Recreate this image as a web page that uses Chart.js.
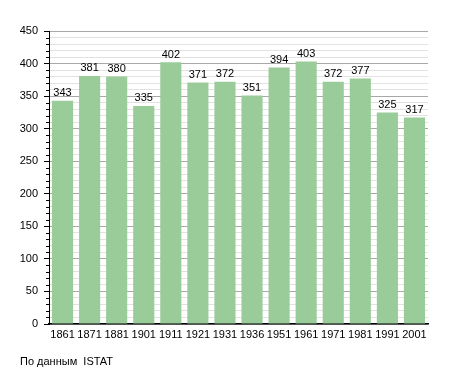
<!DOCTYPE html>
<html>
<head>
<meta charset="utf-8">
<script src="https://cdn.jsdelivr.net/npm/chart.js@4"></script>
<style>
  html, body { margin: 0; padding: 0; background: #fff; }
  #wrap { position: relative; width: 455px; height: 373px; }
  #source {
    position: absolute; left: 20px; top: 355px;
    font: 11px "Liberation Sans", Arial, sans-serif; color: #000;
  }
</style>
</head>
<body>
<div id="wrap">
  <canvas id="chart" width="455" height="373"></canvas>
  <div id="source">По данным&nbsp; ISTAT</div>
</div>
<script>
// census years and population
const years = ["1861", "1871", "1881", "1901", "1911", "1921", "1931", "1936", "1951", "1961", "1971", "1981", "1991", "2001"];
const population = [343, 381, 380, 335, 402, 371, 372, 351, 394, 403, 372, 377, 325, 317];

const yMin = 0;
const yMax = 450;
const minorStep = 10;
const majorStep = 50;

const FONT = { family: '"Liberation Sans", Arial, sans-serif', size: 11 };

// value labels above bars + short minor tick marks on y axis
const extras = {
    id: "extras",
    afterDatasetsDraw(chart) {
        const ctx = chart.ctx;
        const meta = chart.getDatasetMeta(0);
        ctx.save();
        ctx.font = `${FONT.size}px ${FONT.family}`;
        ctx.fillStyle = "#000";
        ctx.textAlign = "center";
        ctx.textBaseline = "bottom";
        meta.data.forEach((bar, i) => {
            ctx.fillText(String(population[i]), bar.x, bar.y - 2);
        });

        const y = chart.scales.y;
        ctx.strokeStyle = "#000";
        ctx.lineWidth = 1;
        for (let v = yMin; v <= yMax; v += minorStep) {
            if (v % majorStep === 0) continue;
            const py = Math.round(y.getPixelForValue(v)) + 0.5;
            ctx.beginPath();
            ctx.moveTo(y.right - 3, py);
            ctx.lineTo(y.right, py);
            ctx.stroke();
        }
        ctx.restore();
    }
};

new Chart(document.getElementById("chart"), {
    type: "bar",
    data: {
        labels: years,
        datasets: [{
            data: population,
            backgroundColor: "#99cc99",
            borderWidth: 0,
            barPercentage: 0.78,
            categoryPercentage: 1.0
        }]
    },
    options: {
        responsive: false,
        animation: false,
        layout: { padding: { left: 0, top: 31, right: 27, bottom: 0 } },
        plugins: {
            legend: { display: false },
            tooltip: { enabled: false }
        },
        scales: {
            x: {
                grid: { display: false, drawTicks: false },
                border: { color: "#000", width: 1.5 },
                ticks: { color: "#000", font: FONT, padding: 4, maxRotation: 0, autoSkip: false },
                afterFit: (s) => { s.height = 49; }
            },
            y: {
                min: yMin,
                max: yMax,
                border: { color: "#000", width: 1 },
                grid: {
                    color: (c) => (c.tick && c.tick.value % majorStep === 0) ? "#a8a8a8" : "#e2e2e2",
                    tickColor: (c) => (c.tick && c.tick.value % majorStep === 0) ? "#000" : "rgba(0,0,0,0)",
                    tickLength: 5
                },
                ticks: {
                    stepSize: minorStep,
                    maxTicksLimit: 100,
                    autoSkip: false,
                    color: "#000",
                    font: FONT,
                    padding: 6,
                    callback: (v) => (v % majorStep === 0 ? String(v) : "")
                },
                afterFit: (s) => { s.width = 49; }
            }
        }
    },
    plugins: [extras]
});
</script>
</body>
</html>
